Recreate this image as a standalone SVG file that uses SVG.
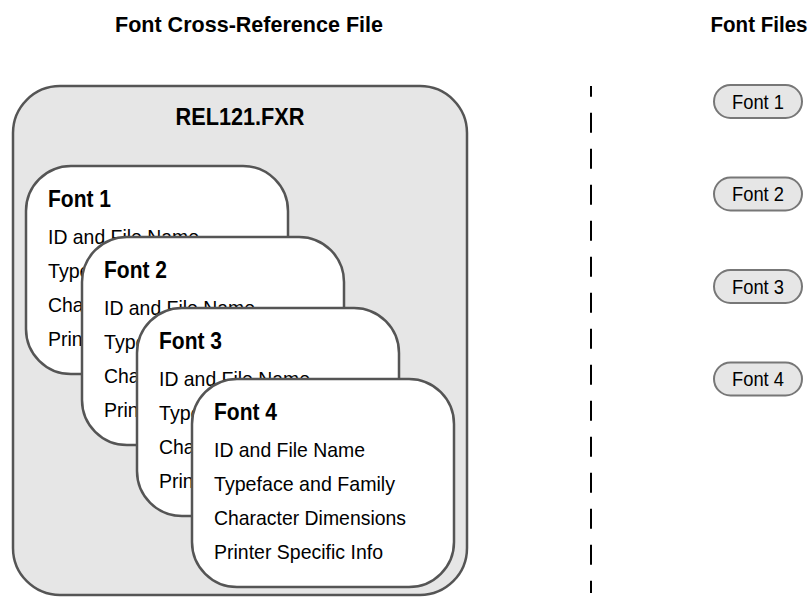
<svg xmlns="http://www.w3.org/2000/svg" width="810" height="597" viewBox="0 0 810 597">
  <style>
    .hdr { font-family: "Liberation Sans", Arial, sans-serif; font-weight: bold; font-size: 22px; fill: #000; }
    .ttl { font-family: "Liberation Sans", Arial, sans-serif; font-weight: bold; font-size: 23px; fill: #000; }
    .body { font-family: "Liberation Sans", Arial, sans-serif; font-size: 21px; fill: #000; }
    .pilltxt { font-family: "Liberation Sans", Arial, sans-serif; font-size: 20px; fill: #000; }
    .file { fill: #e6e6e6; stroke: #555; stroke-width: 2.5; }
    .card { fill: #fff; stroke: #555; stroke-width: 2.5; }
    .pill { fill: #e6e6e6; stroke: #777; stroke-width: 2; }
    .divider { stroke: #000; stroke-width: 2; stroke-dasharray: 20 16; stroke-dashoffset: 9.3; fill: none; }
  </style>
  <defs>
    <!-- one font record card; text lines are laid out relative to the card corner -->
    <g id="record">
      <rect class="card" x="0" y="0" width="262" height="208" rx="45" ry="45"/>
    </g>
  </defs>

  <rect width="810" height="597" fill="#fff"/>

  <!-- column headings -->
  <text class="hdr" x="249" y="32" text-anchor="middle" textLength="268" lengthAdjust="spacingAndGlyphs">Font Cross-Reference File</text>
  <text class="hdr" x="759" y="32" text-anchor="middle" textLength="97" lengthAdjust="spacingAndGlyphs">Font Files</text>

  <!-- cross-reference file container -->
  <g id="rel121-fxr">
    <rect class="file" x="13" y="86" width="454" height="509" rx="47" ry="47"/>
    <text class="ttl" x="240" y="125" text-anchor="middle" textLength="129" lengthAdjust="spacingAndGlyphs">REL121.FXR</text>
  </g>

  <!-- stacked font records -->
  <g id="record-font1" transform="translate(26,166)">
    <use href="#record"/>
    <text class="ttl" x="22" y="41" textLength="63" lengthAdjust="spacingAndGlyphs">Font 1</text>
    <text class="body" x="22" y="78" textLength="151" lengthAdjust="spacingAndGlyphs">ID and File Name</text>
    <text class="body" x="22" y="112" textLength="181" lengthAdjust="spacingAndGlyphs">Typeface and Family</text>
    <text class="body" x="22" y="146" textLength="192" lengthAdjust="spacingAndGlyphs">Character Dimensions</text>
    <text class="body" x="22" y="180" textLength="169" lengthAdjust="spacingAndGlyphs">Printer Specific Info</text>
  </g>
  <g id="record-font2" transform="translate(82,237)">
    <use href="#record"/>
    <text class="ttl" x="22" y="41" textLength="63" lengthAdjust="spacingAndGlyphs">Font 2</text>
    <text class="body" x="22" y="78" textLength="151" lengthAdjust="spacingAndGlyphs">ID and File Name</text>
    <text class="body" x="22" y="112" textLength="181" lengthAdjust="spacingAndGlyphs">Typeface and Family</text>
    <text class="body" x="22" y="146" textLength="192" lengthAdjust="spacingAndGlyphs">Character Dimensions</text>
    <text class="body" x="22" y="180" textLength="169" lengthAdjust="spacingAndGlyphs">Printer Specific Info</text>
  </g>
  <g id="record-font3" transform="translate(137,308)">
    <use href="#record"/>
    <text class="ttl" x="22" y="41" textLength="63" lengthAdjust="spacingAndGlyphs">Font 3</text>
    <text class="body" x="22" y="78" textLength="151" lengthAdjust="spacingAndGlyphs">ID and File Name</text>
    <text class="body" x="22" y="112" textLength="181" lengthAdjust="spacingAndGlyphs">Typeface and Family</text>
    <text class="body" x="22" y="146" textLength="192" lengthAdjust="spacingAndGlyphs">Character Dimensions</text>
    <text class="body" x="22" y="180" textLength="169" lengthAdjust="spacingAndGlyphs">Printer Specific Info</text>
  </g>
  <g id="record-font4" transform="translate(192,379)">
    <use href="#record"/>
    <text class="ttl" x="22" y="41" textLength="63" lengthAdjust="spacingAndGlyphs">Font 4</text>
    <text class="body" x="22" y="78" textLength="151" lengthAdjust="spacingAndGlyphs">ID and File Name</text>
    <text class="body" x="22" y="112" textLength="181" lengthAdjust="spacingAndGlyphs">Typeface and Family</text>
    <text class="body" x="22" y="146" textLength="192" lengthAdjust="spacingAndGlyphs">Character Dimensions</text>
    <text class="body" x="22" y="180" textLength="169" lengthAdjust="spacingAndGlyphs">Printer Specific Info</text>
  </g>

  <!-- separator between the two columns -->
  <g id="connectors">
    <line class="divider" x1="591" y1="86" x2="591" y2="593"/>
  </g>

  <!-- individual font files -->
  <g id="file-font1">
    <rect class="pill" x="714" y="85" width="88" height="33" rx="16.5" ry="16.5"/>
    <text class="pilltxt" x="758" y="108.5" text-anchor="middle" textLength="52" lengthAdjust="spacingAndGlyphs">Font 1</text>
  </g>
  <g id="file-font2">
    <rect class="pill" x="714" y="177.5" width="88" height="33" rx="16.5" ry="16.5"/>
    <text class="pilltxt" x="758" y="201" text-anchor="middle" textLength="52" lengthAdjust="spacingAndGlyphs">Font 2</text>
  </g>
  <g id="file-font3">
    <rect class="pill" x="714" y="270" width="88" height="33" rx="16.5" ry="16.5"/>
    <text class="pilltxt" x="758" y="293.5" text-anchor="middle" textLength="52" lengthAdjust="spacingAndGlyphs">Font 3</text>
  </g>
  <g id="file-font4">
    <rect class="pill" x="714" y="362.5" width="88" height="33" rx="16.5" ry="16.5"/>
    <text class="pilltxt" x="758" y="386" text-anchor="middle" textLength="52" lengthAdjust="spacingAndGlyphs">Font 4</text>
  </g>
</svg>
